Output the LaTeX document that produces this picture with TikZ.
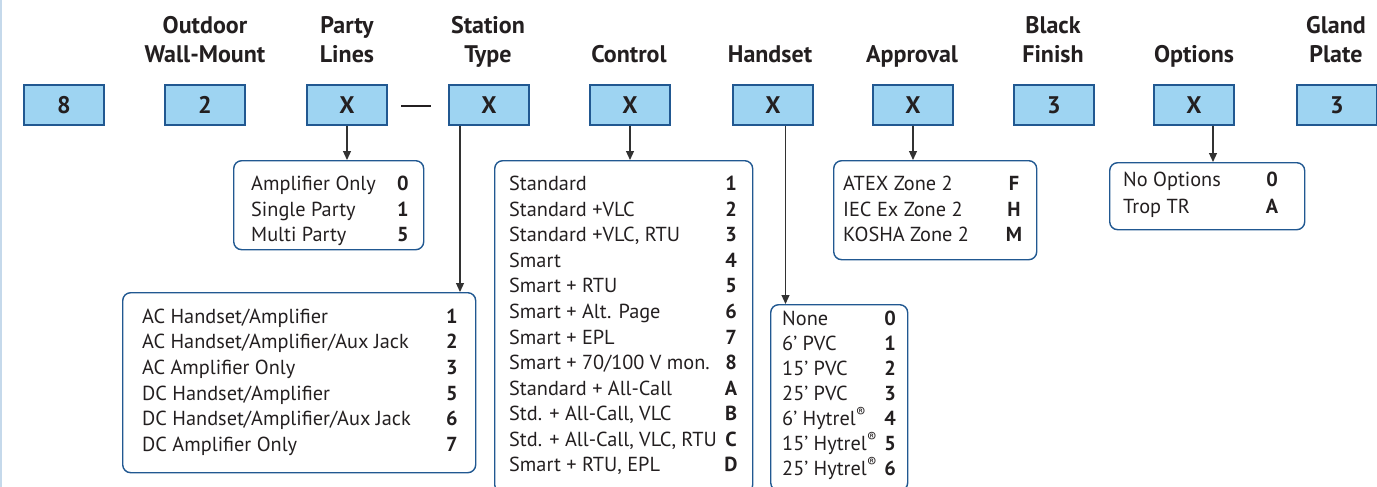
\documentclass[tikz,border=0pt]{standalone}
\usepackage{fontspec}
\setmainfont{PT Sans}
\usetikzlibrary{arrows.meta}

\definecolor{boxfill}{RGB}{158,212,242}
\definecolor{boxline}{RGB}{33,88,145}
\definecolor{textgray}{RGB}{35,31,32}
\definecolor{arrowgray}{RGB}{50,50,50}
\definecolor{rimblue}{RGB}{197,217,235}

\tikzset{
  codebox/.style={draw=boxline, fill=boxfill, line width=1.3pt, minimum width=80pt,
    minimum height=40pt, inner sep=0pt, text=textgray,
    font=\bfseries\fontsize{24}{24}\selectfont},
  heading/.style={align=center, anchor=base, inner sep=0pt, text=textgray,
    font=\bfseries\fontsize{24}{29}\selectfont},
  listbox/.style={draw=boxline, line width=1.4pt, rounded corners=8pt,
    anchor=north west, inner sep=0pt},
  entry/.style={anchor=base west, inner sep=0pt, text=textgray,
    font=\fontsize{20.3}{20}\selectfont},
  code/.style={anchor=base, inner sep=0pt, text=textgray,
    font=\bfseries\fontsize{20.3}{20}\selectfont},
  pointer/.style={draw=arrowgray, line width=1.2pt,
    -{Triangle[length=9pt,width=8pt]}}
}

\begin{document}
\begin{tikzpicture}[x=1pt,y=-1pt]
  \useasboundingbox (0,0) rectangle (1377,487);
  \draw[rimblue, line width=1.5pt] (0.75,0) -- (0.75,487);

  % the code boxes
  \foreach \n/\x/\t in {k8/64/8, wm/205/2, pl/347/X, st/489/X, ct/630/X,
      hs/773/X, ap/913/X, bf/1054/3, op/1194/X, gp/1337/3}
    \node[codebox] (\n) at (\x,105) {\t};
  \node[inner sep=0pt, text=textgray] (dash) at (416,106) {\rule{30pt}{2.6pt}};

  % headings (base = last line)
  \node[heading] (h-wm) at (205,63) {Outdoor\\Wall-Mount};
  \node[heading] (h-pl) at (347,63) {Party\\Lines};
  \node[heading] (h-st) at (488,63) {Station\\Type};
  \node[heading] (h-ct) at (629,63) {Control};
  \node[heading] (h-hs) at (770,63) {Handset};
  \node[heading] (h-ap) at (912,63) {Approval};
  \node[heading] (h-bf) at (1053,63) {Black\\Finish};
  \node[heading] (h-op) at (1194,63) {Options};
  \node[heading] (h-gp) at (1336,63) {Gland\\Plate};

  % option lists
  \node[listbox, minimum width=190, minimum height=89] (pl-list) at (233,160) {};
  \foreach \t/\c [count=\i from 0] in {Amplifier Only/0, Single Party/1, Multi Party/5} {
    \node[entry] (pl-t\i) at (251,190.7+25.5*\i) {\t};
    \node[code] (pl-c\i) at (403,190.7+25.5*\i) {\c};
  }

  \node[listbox, minimum width=353, minimum height=180] (st-list) at (122,292) {};
  \foreach \t/\c [count=\i from 0] in {{AC Handset/Amplifier}/1,
      {AC Handset/Amplifier/Aux Jack}/2, {AC Amplifier Only}/3,
      {DC Handset/Amplifier}/5, {DC Handset/Amplifier/Aux Jack}/6,
      {DC Amplifier Only}/7} {
    \node[entry] (st-t\i) at (142,323+25.7*\i) {\t};
    \node[code] (st-c\i) at (452,323+25.7*\i) {\c};
  }

  \node[listbox, minimum width=258, minimum height=332] (ct-list) at (494,160) {};
  \foreach \t/\c [count=\i from 0] in {Standard/1, {Standard +VLC}/2,
      {Standard +VLC, RTU}/3, Smart/4, {Smart + RTU}/5, {Smart + Alt. Page}/6,
      {Smart + EPL}/7, {Smart + 70/100 V mon.}/8, {Standard + All-Call}/A,
      {Std. + All-Call, VLC}/B, {Std. + All-Call, VLC, RTU}/C,
      {Smart + RTU, EPL}/D} {
    \node[entry] (ct-t\i) at (509,190.7+25.55*\i) {\t};
    \node[code] (ct-c\i) at (731,190.7+25.55*\i) {\c};
  }

  \node[listbox, minimum width=137, minimum height=186] (hs-list) at (770,304) {};
  \foreach \t/\c [count=\i from 0] in {None/0, {6’ PVC}/1, {15’ PVC}/2,
      {25’ PVC}/3, {6’ Hytrel\textsuperscript{®}}/4,
      {15’ Hytrel\textsuperscript{®}}/5, {25’ Hytrel\textsuperscript{®}}/6} {
    \node[entry] (hs-t\i) at (782,325.7+24.9*\i) {\t};
    \node[code] (hs-c\i) at (890,325.7+24.9*\i) {\c};
  }

  \node[listbox, minimum width=203, minimum height=99] (ap-list) at (833,160) {};
  \foreach \t/\c [count=\i from 0] in {{ATEX Zone 2}/F, {IEC Ex Zone 2}/H,
      {KOSHA Zone 2}/M} {
    \node[entry] (ap-t\i) at (843,190.7+25.3*\i) {\t};
    \node[code] (ap-c\i) at (1014,190.7+25.3*\i) {\c};
  }

  \node[listbox, minimum width=195, minimum height=67] (op-list) at (1109,162) {};
  \foreach \t/\c [count=\i from 0] in {{No Options}/0, {Trop TR}/A} {
    \node[entry] (op-t\i) at (1123,186.7+26.6*\i) {\t};
    \node[code] (op-c\i) at (1272,186.7+26.6*\i) {\c};
  }

  % pointers
  \draw[pointer] (pl.south) -- (pl.south |- pl-list.north);
  \draw[pointer] ([xshift=-29pt]st.south) -- ([xshift=-29pt]st.south |- st-list.north);
  \draw[pointer] (ct.south) -- (ct.south |- ct-list.north);
  \draw[pointer] ([xshift=12.5pt]hs.south) -- ([xshift=12.5pt]hs.south |- hs-list.north);
  \draw[pointer] (ap.south) -- (ap.south |- ap-list.north);
  \draw[pointer] ([xshift=19pt]op.south) -- ([xshift=19pt]op.south |- op-list.north);
\end{tikzpicture}
\end{document}
